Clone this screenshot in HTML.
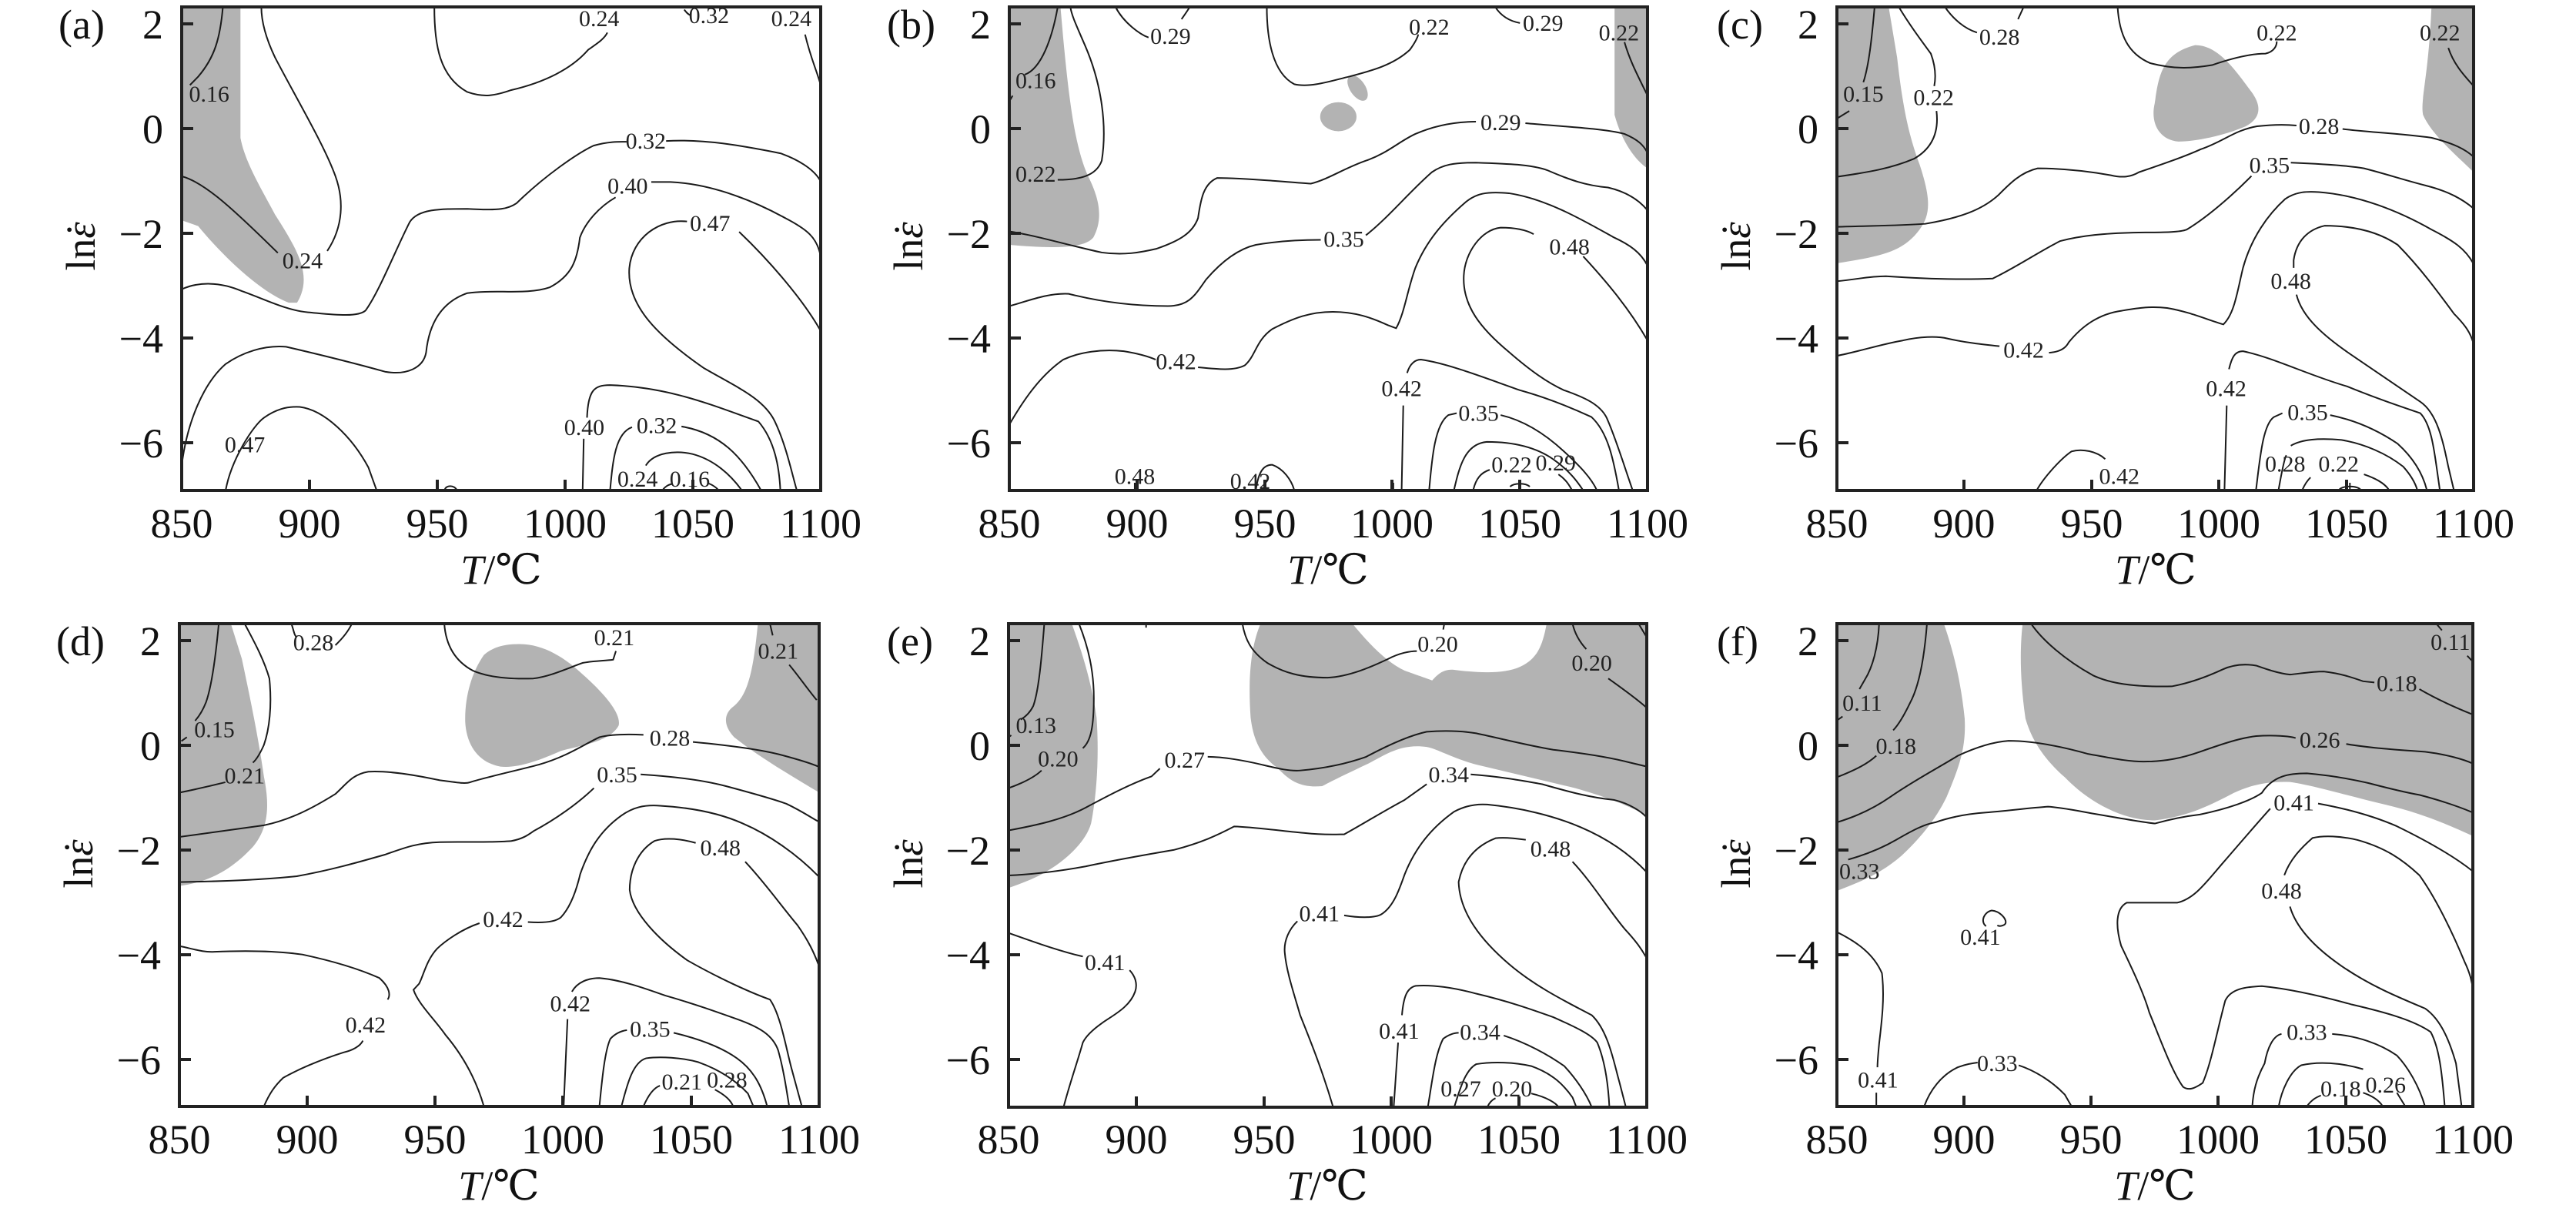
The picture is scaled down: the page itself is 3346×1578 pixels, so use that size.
<!DOCTYPE html>
<html><head><meta charset="utf-8"><style>
html,body{margin:0;padding:0;background:#fff}
svg{display:block;font-family:"Liberation Serif","DejaVu Serif","Times New Roman",serif}
.c{fill:none;stroke:#1a1a1a;stroke-width:2;vector-effect:non-scaling-stroke}
.g{fill:#b3b3b3;stroke:none}
.l text{font-family:"Liberation Serif","DejaVu Serif",serif;font-size:30px;fill:#222;text-anchor:middle}
.t text{font-family:"Liberation Serif","DejaVu Serif",serif;font-size:54px;fill:#111}
.ax{fill:none;stroke:#222;stroke-width:4}
.tk{stroke:#222;stroke-width:4}
</style></head><body>
<svg width="3346" height="1578" viewBox="0 0 3346 1578" xmlns="http://www.w3.org/2000/svg" font-family="Liberation Serif, DejaVu Serif, serif">
<defs>
<clipPath id="ca"><rect x="330" y="18" width="1162" height="1262"/></clipPath>
<clipPath id="cb"><rect x="352" y="18" width="1160" height="1264"/></clipPath>
<clipPath id="cc"><rect x="323" y="18" width="1132" height="1264"/></clipPath>
<clipPath id="cd"><rect x="325" y="60" width="1163" height="1233"/></clipPath>
<clipPath id="ce"><rect x="350" y="60" width="1160" height="1235"/></clipPath>
<clipPath id="cf"><rect x="255" y="58" width="1130" height="1232"/></clipPath>
</defs>

<!-- Panel a -->
<g transform="translate(236,9) scale(0.7134,0.4976) translate(-330,-18)">
<g clip-path="url(#ca)">
<path class="g" d="M330,18 L437,18 L437,360 C445,420 470,480 500,560 C540,650 570,720 540,790 L525,790 C470,760 400,660 360,590 L330,575 Z"/>
<path class="c" d="M405,18 C400,100 390,150 360,200 L345,222"/>
<path class="c" d="M330,460 C370,475 420,540 505,660 M595,655 C625,590 625,520 610,460 C590,380 540,260 500,150 C480,90 475,50 475,18"/>
<path class="c" d="M330,755 C360,735 400,735 440,760 C480,780 520,810 560,815 C600,820 650,830 665,810 C690,760 720,650 745,580 C760,545 800,545 850,545 C910,550 925,545 940,530 C990,460 1050,400 1080,380 C1110,368 1130,370 1140,370 M1212,368 C1280,362 1350,380 1420,400 C1450,415 1480,440 1492,470"/>
<path class="c" d="M330,1215 C340,1100 370,1000 410,950 C440,920 480,900 520,905 C580,925 650,950 700,970 C740,980 770,960 775,920 C780,850 800,790 850,765 C900,755 960,770 1000,750 C1040,720 1050,680 1055,620 C1065,580 1090,540 1120,515 M1185,475 L1220,475 C1300,480 1380,530 1430,570 C1470,600 1485,620 1492,660"/>
<path class="c" d="M1250,578 C1200,570 1150,620 1145,700 C1140,800 1200,880 1280,960 C1340,1010 1390,1040 1410,1100 C1430,1160 1440,1230 1450,1280 M1345,605 C1400,680 1460,780 1492,860"/>
<path class="c" d="M1060,1280 L1062,1145 M1068,1090 C1070,1020 1080,1005 1110,1005 C1220,1010 1300,1060 1380,1100 C1410,1150 1418,1220 1420,1280"/>
<path class="c" d="M1110,1280 C1115,1200 1120,1130 1150,1115 M1240,1113 C1310,1130 1350,1190 1385,1280"/>
<path class="c" d="M1175,1215 C1190,1180 1230,1175 1260,1185 C1300,1200 1330,1240 1350,1280"/>
<path class="c" d="M1205,1280 C1210,1270 1215,1266 1222,1263 M1290,1262 C1300,1268 1305,1275 1308,1280"/>
<path class="c" d="M790,18 C790,120 800,200 850,240 C880,255 900,250 930,235 C990,215 1040,180 1070,130 C1090,110 1100,100 1105,85"/>
<path class="c" d="M1245,25 C1250,35 1255,40 1258,40 M1465,90 C1475,150 1485,180 1492,215"/>
<path class="c" d="M808,1280 C812,1265 825,1265 832,1280"/>
<path class="c" d="M410,1280 C420,1200 460,1110 480,1090 C500,1070 520,1060 545,1062 C590,1070 640,1140 670,1220 L685,1280"/>
</g>
<g class="l">
<text transform="translate(380,245) scale(1.40,2.01)" dy="10">0.16</text>
<text transform="translate(550,680) scale(1.40,2.01)" dy="10">0.24</text>
<text transform="translate(1090,48) scale(1.40,2.01)" dy="10">0.24</text>
<text transform="translate(1290,40) scale(1.40,2.01)" dy="10">0.32</text>
<text transform="translate(1440,48) scale(1.40,2.01)" dy="10">0.24</text>
<text transform="translate(1175,368) scale(1.40,2.01)" dy="10">0.32</text>
<text transform="translate(1142,485) scale(1.40,2.01)" dy="10">0.40</text>
<text transform="translate(1292,583) scale(1.40,2.01)" dy="10">0.47</text>
<text transform="translate(1063,1115) scale(1.40,2.01)" dy="10">0.40</text>
<text transform="translate(1195,1110) scale(1.40,2.01)" dy="10">0.32</text>
<text transform="translate(1160,1250) scale(1.40,2.01)" dy="10">0.24</text>
<text transform="translate(1255,1250) scale(1.40,2.01)" dy="10">0.16</text>
<text transform="translate(445,1160) scale(1.40,2.01)" dy="10">0.47</text>
</g>
</g>

<!-- Panel b -->
<g transform="translate(1311,9) scale(0.7147,0.4968) translate(-352,-18)">
<g clip-path="url(#cb)">
<path class="g" d="M352,18 L445,18 L450,100 C460,250 470,380 495,460 C520,530 520,580 505,620 C490,650 430,650 352,640 Z"/>
<path class="g" d="M1452,18 L1512,18 L1512,440 C1490,420 1465,370 1452,300 Z"/>
<ellipse class="g" cx="950" cy="305" rx="33" ry="38"/>
<ellipse class="g" cx="985" cy="230" rx="15" ry="35" transform="rotate(-20 985 230)"/>
<path class="c" d="M440,18 C430,100 410,180 380,195 M358,250 L352,265"/>
<path class="c" d="M440,470 C480,470 510,460 520,420 C530,330 520,220 490,120 C475,70 465,40 463,18"/>
<path class="c" d="M545,18 C560,60 590,90 605,98 M665,50 C670,40 675,30 680,18"/>
<path class="c" d="M820,18 C820,100 830,190 870,220 C900,230 940,210 970,200 C1010,185 1050,170 1080,130 C1090,110 1095,95 1095,90"/>
<path class="c" d="M1235,18 C1245,40 1260,55 1280,60 M1470,110 C1480,160 1495,200 1512,250"/>
<path class="c" d="M352,605 C400,615 470,645 520,660 C560,668 590,660 620,650 C660,630 685,610 695,570 C700,520 705,480 730,465 C780,465 850,475 900,480 C930,470 960,440 1000,420 C1040,400 1060,370 1090,350 C1130,325 1170,318 1200,318 M1290,322 C1350,330 1430,335 1470,350 C1495,365 1505,380 1512,400"/>
<path class="c" d="M352,800 C380,790 420,765 460,768 C520,790 580,800 640,800 C680,800 690,770 710,730 C740,680 770,650 800,640 C840,630 880,627 918,627 M1000,615 C1040,570 1080,500 1120,450 C1140,430 1160,425 1200,425 C1260,428 1300,430 1330,445 C1370,470 1400,485 1440,490 C1470,500 1495,520 1512,550"/>
<path class="c" d="M352,1110 C380,1040 410,980 450,940 C480,920 520,912 560,918 C590,925 610,935 618,940 M695,960 C730,965 760,970 780,955 C800,930 800,890 830,860 C870,830 900,815 940,815 C980,815 1010,830 1040,850 L1055,858 C1070,820 1075,760 1090,700 C1110,630 1140,580 1180,530 C1200,505 1220,500 1260,505 C1330,520 1400,580 1450,620 C1480,640 1500,660 1512,695"/>
<path class="c" d="M1305,612 C1290,600 1270,595 1245,595 C1210,600 1180,660 1178,720 C1175,800 1210,860 1260,920 C1300,970 1330,1000 1360,1020 C1400,1040 1430,1060 1440,1100 C1455,1150 1470,1220 1485,1282 M1395,670 C1440,740 1480,810 1512,890"/>
<path class="c" d="M1065,1282 L1068,1060 M1075,975 C1080,950 1090,940 1100,940 C1150,950 1220,990 1280,1020 C1330,1040 1380,1070 1410,1090 C1440,1130 1450,1200 1460,1282"/>
<path class="c" d="M1115,1282 C1120,1200 1125,1110 1150,1085 L1165,1080 M1245,1085 C1290,1100 1330,1140 1360,1180 C1390,1220 1410,1250 1420,1282"/>
<path class="c" d="M1160,1282 C1170,1220 1180,1160 1220,1155 C1270,1155 1310,1170 1340,1200 C1370,1230 1385,1260 1395,1282"/>
<path class="c" d="M1195,1282 C1200,1250 1210,1235 1225,1228 M1350,1240 C1365,1255 1370,1270 1375,1282"/>
<path class="c" d="M800,1282 C805,1230 815,1215 830,1215 C850,1225 865,1255 870,1282"/>
<path class="c" d="M1050,1282 L1050,1262 M1262,1272 C1270,1262 1290,1262 1298,1272 M1280,1262 L1280,1282 M580,1262 L580,1282"/>
</g>
<g class="l">
<text transform="translate(400,210) scale(1.40,2.01)" dy="10">0.16</text>
<text transform="translate(400,455) scale(1.40,2.01)" dy="10">0.22</text>
<text transform="translate(645,95) scale(1.40,2.01)" dy="10">0.29</text>
<text transform="translate(1115,70) scale(1.40,2.01)" dy="10">0.22</text>
<text transform="translate(1322,60) scale(1.40,2.01)" dy="10">0.29</text>
<text transform="translate(1460,85) scale(1.40,2.01)" dy="10">0.22</text>
<text transform="translate(1245,320) scale(1.40,2.01)" dy="10">0.29</text>
<text transform="translate(960,625) scale(1.40,2.01)" dy="10">0.35</text>
<text transform="translate(655,945) scale(1.40,2.01)" dy="10">0.42</text>
<text transform="translate(1370,645) scale(1.40,2.01)" dy="10">0.48</text>
<text transform="translate(1065,1015) scale(1.40,2.01)" dy="10">0.42</text>
<text transform="translate(1205,1080) scale(1.40,2.01)" dy="10">0.35</text>
<text transform="translate(1265,1215) scale(1.40,2.01)" dy="10">0.22</text>
<text transform="translate(1345,1210) scale(1.40,2.01)" dy="10">0.29</text>
<text transform="translate(580,1245) scale(1.40,2.01)" dy="10">0.48</text>
<text transform="translate(790,1258) scale(1.40,2.01)" dy="10">0.42</text>
</g>
</g>

<!-- Panel c -->
<g transform="translate(2386,9) scale(0.7306,0.4968) translate(-323,-18)">
<g clip-path="url(#cc)">
<path class="g" d="M323,18 L415,18 L430,150 C440,280 450,350 470,430 C490,520 490,560 470,600 C440,660 400,670 323,688 Z"/>
<path class="g" d="M960,118 C1000,118 1030,180 1060,240 C1080,280 1075,310 1050,330 C1010,355 960,370 930,370 C895,365 880,320 888,270 C895,200 900,140 960,118 Z"/>
<path class="g" d="M1380,18 L1455,18 L1455,450 C1420,400 1380,350 1365,300 C1360,260 1375,200 1380,18 Z"/>
<path class="c" d="M390,18 C385,100 380,170 370,215 M345,290 L323,310"/>
<path class="c" d="M433,18 C450,60 470,100 490,140 C500,180 498,210 496,225 M500,290 C505,350 490,390 460,415 C420,440 380,450 323,462"/>
<path class="c" d="M515,18 C530,50 550,75 572,85 M645,50 L655,18"/>
<path class="c" d="M822,18 C825,90 840,140 880,165 C920,180 950,180 990,170 C1030,150 1060,140 1085,140 C1100,135 1105,120 1105,108"/>
<path class="c" d="M1410,125 C1420,170 1440,200 1455,225"/>
<path class="c" d="M323,593 C380,590 430,590 480,585 C540,570 580,550 610,510 C630,480 650,450 680,440 C730,440 780,450 810,458 C830,465 845,463 860,450 C900,430 940,410 970,390 C1010,370 1030,340 1070,330 C1100,325 1120,325 1140,328 M1222,337 C1260,345 1320,348 1380,360 C1420,375 1440,390 1455,410"/>
<path class="c" d="M323,735 C360,730 380,722 410,722 C470,728 540,732 600,728 C640,700 680,660 720,630 C760,615 800,610 850,608 C900,607 930,608 945,600 C990,560 1040,490 1060,460 M1130,425 C1180,428 1230,432 1260,440 C1300,455 1330,470 1370,485 C1410,500 1435,520 1455,545"/>
<path class="c" d="M323,930 C360,920 400,900 440,890 C470,880 500,878 520,885 C550,895 580,900 612,905 M700,922 C720,920 730,910 735,895 C760,850 790,820 830,812 C860,805 880,800 910,805 C950,815 980,835 1010,848 C1030,820 1035,760 1045,700 C1060,620 1090,560 1120,520 C1140,500 1160,500 1180,502 C1250,510 1320,550 1380,600 C1420,630 1440,650 1455,690"/>
<path class="c" d="M1135,700 L1135,680 C1140,630 1160,600 1190,590 C1230,590 1280,600 1320,640 C1360,700 1390,760 1420,820 C1440,850 1450,870 1455,900 M1140,770 C1150,830 1190,880 1240,930 C1290,980 1330,1020 1360,1050 C1390,1080 1400,1150 1410,1220 L1420,1282"/>
<path class="c" d="M1012,1282 L1016,1060 M1020,965 C1025,935 1030,918 1045,918 C1100,935 1160,980 1230,1010 C1280,1040 1320,1060 1360,1080 C1380,1110 1385,1180 1390,1230 L1395,1282"/>
<path class="c" d="M1068,1282 C1075,1200 1080,1110 1100,1090 L1115,1080 M1200,1085 C1250,1100 1290,1130 1320,1160 C1350,1200 1365,1240 1372,1282"/>
<path class="c" d="M1108,1282 C1113,1240 1118,1200 1122,1190 M1130,1165 C1150,1148 1180,1145 1220,1150 C1260,1160 1300,1185 1330,1220 C1345,1245 1352,1265 1355,1282"/>
<path class="c" d="M1150,1282 C1155,1265 1160,1255 1165,1248 M1260,1240 C1290,1255 1300,1270 1305,1282"/>
<path class="c" d="M678,1282 C690,1250 720,1200 740,1180 C760,1172 785,1180 800,1200"/>
<path class="c" d="M1215,1282 C1220,1268 1250,1268 1255,1282 M1235,1262 L1235,1282"/>
</g>
<g class="l">
<text transform="translate(370,245) scale(1.37,2.01)" dy="10">0.15</text>
<text transform="translate(495,255) scale(1.37,2.01)" dy="10">0.22</text>
<text transform="translate(612,97) scale(1.37,2.01)" dy="10">0.28</text>
<text transform="translate(1105,85) scale(1.37,2.01)" dy="10">0.22</text>
<text transform="translate(1395,85) scale(1.37,2.01)" dy="10">0.22</text>
<text transform="translate(1180,330) scale(1.37,2.01)" dy="10">0.28</text>
<text transform="translate(1092,432) scale(1.37,2.01)" dy="10">0.35</text>
<text transform="translate(655,915) scale(1.37,2.01)" dy="10">0.42</text>
<text transform="translate(1130,735) scale(1.37,2.01)" dy="10">0.48</text>
<text transform="translate(1015,1015) scale(1.37,2.01)" dy="10">0.42</text>
<text transform="translate(1160,1078) scale(1.37,2.01)" dy="10">0.35</text>
<text transform="translate(1120,1213) scale(1.37,2.01)" dy="10">0.28</text>
<text transform="translate(1215,1213) scale(1.37,2.01)" dy="10">0.22</text>
<text transform="translate(825,1245) scale(1.37,2.01)" dy="10">0.42</text>
</g>
</g>

<!-- Panel d -->
<g transform="translate(232,810) scale(0.7145,0.5085) translate(-325,-60)">
<g clip-path="url(#cd)">
<path class="g" d="M325,60 L420,60 L440,150 C455,250 470,350 480,450 C490,520 490,580 460,630 C420,690 380,720 325,730 Z"/>
<path class="g" d="M945,112 C990,112 1030,150 1060,190 C1100,240 1130,290 1125,320 C1110,360 1060,370 1020,385 C980,410 940,430 910,425 C870,415 848,370 846,310 C845,240 860,180 880,140 C900,115 925,112 945,112 Z"/>
<path class="g" d="M1378,60 L1488,60 L1488,490 C1440,450 1380,400 1335,350 C1315,320 1315,290 1335,270 C1360,240 1370,180 1378,60 Z"/>
<path class="c" d="M398,60 C392,150 385,220 375,260 C368,285 360,300 355,308 M340,350 L330,360"/>
<path class="c" d="M445,60 C460,100 480,150 490,200 C495,270 490,330 480,370 C472,395 466,408 460,415 M410,465 C390,472 360,482 325,492"/>
<path class="c" d="M530,60 C535,80 535,90 540,95 M610,115 C625,95 635,75 640,60"/>
<path class="c" d="M808,60 C810,100 820,150 860,180 C890,198 930,202 970,200 C1000,195 1030,175 1060,160 C1080,155 1100,155 1115,152 L1120,130"/>
<path class="c" d="M1400,60 L1405,90 M1435,165 C1450,190 1470,230 1485,255"/>
<path class="c" d="M325,605 C380,595 430,585 480,575 C530,560 570,530 610,495 C630,470 640,445 670,438 C710,435 760,448 800,460 C830,465 845,470 855,465 C890,450 940,435 980,420 C1030,400 1060,370 1090,350 C1110,343 1140,342 1170,344 M1260,362 C1320,370 1380,380 1420,395 C1460,410 1480,420 1488,425"/>
<path class="c" d="M325,720 C400,718 470,715 540,705 C600,690 650,670 700,650 C740,630 760,620 800,618 C840,616 890,620 930,615 C950,610 960,600 970,590 C1010,560 1050,520 1080,480 M1165,445 C1220,450 1280,460 1320,475 C1360,490 1400,505 1430,520 C1460,540 1480,560 1488,565"/>
<path class="c" d="M960,822 C990,825 1010,822 1020,810 C1040,780 1050,730 1055,700 C1070,640 1090,590 1130,550 C1150,530 1170,522 1200,525 C1260,530 1310,545 1350,570 C1400,600 1450,650 1488,705 M872,825 C840,840 810,870 795,890 C775,920 770,960 762,980 L752,995 C760,1030 790,1070 810,1110 C840,1160 865,1220 880,1293"/>
<path class="c" d="M325,883 C350,890 370,900 390,898 C440,895 500,895 550,905 C600,920 650,940 690,965 C710,990 710,1010 705,1020 M660,1125 C655,1140 640,1150 625,1155 C580,1175 540,1200 515,1220 C500,1240 490,1260 480,1293"/>
<path class="c" d="M1265,620 C1240,610 1210,605 1190,615 C1160,640 1145,690 1145,740 C1150,800 1200,870 1250,920 C1300,960 1360,1000 1400,1020 C1420,1060 1430,1150 1440,1200 L1458,1293 M1355,668 C1390,720 1420,780 1450,830 C1470,870 1480,900 1488,930"/>
<path class="c" d="M1025,1293 L1032,1070 M1040,1000 C1050,975 1070,965 1090,965 C1130,970 1170,990 1210,1010 C1260,1030 1300,1050 1340,1070 C1380,1090 1405,1110 1415,1150 C1425,1200 1430,1250 1435,1293"/>
<path class="c" d="M1090,1293 C1095,1220 1100,1150 1110,1120 C1120,1105 1130,1100 1140,1098 M1225,1105 C1270,1120 1310,1140 1340,1170 C1370,1200 1385,1240 1395,1293"/>
<path class="c" d="M1130,1293 C1140,1240 1150,1180 1175,1170 C1200,1165 1240,1168 1270,1180 C1310,1200 1340,1230 1360,1260 L1370,1293"/>
<path class="c" d="M1170,1293 C1180,1260 1190,1245 1200,1240 M1300,1250 C1320,1265 1330,1280 1333,1293"/>
</g>
<g class="l">
<text transform="translate(390,330) scale(1.40,1.97)" dy="10">0.15</text>
<text transform="translate(445,448) scale(1.40,1.97)" dy="10">0.21</text>
<text transform="translate(570,108) scale(1.40,1.97)" dy="10">0.28</text>
<text transform="translate(1117,95) scale(1.40,1.97)" dy="10">0.21</text>
<text transform="translate(1415,130) scale(1.40,1.97)" dy="10">0.21</text>
<text transform="translate(1218,352) scale(1.40,1.97)" dy="10">0.28</text>
<text transform="translate(1122,445) scale(1.40,1.97)" dy="10">0.35</text>
<text transform="translate(915,815) scale(1.40,1.97)" dy="10">0.42</text>
<text transform="translate(665,1085) scale(1.40,1.97)" dy="10">0.42</text>
<text transform="translate(1310,632) scale(1.40,1.97)" dy="10">0.48</text>
<text transform="translate(1037,1030) scale(1.40,1.97)" dy="10">0.42</text>
<text transform="translate(1182,1095) scale(1.40,1.97)" dy="10">0.35</text>
<text transform="translate(1240,1230) scale(1.40,1.97)" dy="10">0.21</text>
<text transform="translate(1322,1225) scale(1.40,1.97)" dy="10">0.28</text>
</g>
</g>

<!-- Panel e -->
<g transform="translate(1310,810) scale(0.7147,0.5085) translate(-350,-60)">
<g clip-path="url(#ce)">
<path class="g" d="M350,60 L465,60 C480,120 500,200 510,300 C515,400 510,500 500,570 C490,620 450,670 410,700 C390,715 370,725 350,735 Z"/>
<path class="g" d="M808,60 L975,60 C1010,120 1040,160 1070,180 C1090,190 1110,200 1120,205 C1130,190 1140,175 1160,178 C1200,185 1250,190 1280,170 C1310,150 1320,120 1328,60 L1510,60 L1510,550 C1470,520 1430,500 1380,480 C1320,460 1260,440 1200,420 C1150,400 1130,380 1110,375 C1060,365 1030,400 1000,420 C970,440 940,460 920,475 C880,480 860,460 840,430 C810,400 795,360 790,300 C785,200 790,120 808,60 Z"/>
<path class="c" d="M415,60 C410,150 405,230 395,270 C388,290 378,300 372,305 M355,345 L350,350"/>
<path class="c" d="M478,60 C495,120 505,180 505,250 C505,320 500,360 485,378 M410,435 C395,455 370,470 350,480"/>
<path class="c" d="M350,588 C400,575 450,560 490,530 C530,500 570,470 610,450 L625,430 M712,400 C740,400 780,410 810,420 C840,430 860,437 880,435 C920,430 960,420 1000,400 C1040,370 1080,345 1110,336 C1140,333 1170,333 1200,340 C1250,355 1290,370 1340,382 C1390,390 1440,400 1480,415 L1510,425"/>
<path class="c" d="M775,60 C780,100 790,130 820,160 C850,185 880,198 930,198 C970,195 1010,170 1040,150 C1060,135 1080,130 1092,130 M1140,75 L1142,60"/>
<path class="c" d="M1375,60 C1380,90 1390,110 1400,125 M1440,200 C1460,220 1490,250 1510,275 M1495,60 L1510,95 M600,60 L600,70"/>
<path class="c" d="M350,703 C400,700 450,690 490,680 C540,665 600,650 650,638 C700,620 730,600 760,578 C800,580 850,590 890,595 C920,600 950,598 960,598 C990,575 1030,540 1070,510 C1090,490 1100,480 1110,470 M1190,445 C1240,450 1280,460 1320,470 C1370,490 1410,505 1450,510 C1480,520 1500,540 1510,555"/>
<path class="c" d="M960,805 C990,812 1020,812 1030,800 C1050,780 1060,740 1070,700 C1090,630 1120,580 1160,540 C1180,525 1200,520 1220,522 C1280,530 1340,550 1390,580 C1440,610 1480,650 1510,695 M875,820 C860,840 850,870 852,900 C855,950 870,1010 880,1060 C900,1130 920,1200 940,1295"/>
<path class="c" d="M350,850 C390,870 430,890 470,905 L485,910 M570,945 C580,960 585,980 580,1000 C570,1040 540,1060 520,1080 C500,1100 490,1115 485,1130 C475,1180 460,1240 450,1295"/>
<path class="c" d="M1290,612 C1270,608 1250,605 1235,608 C1195,630 1175,670 1168,720 C1170,800 1210,870 1260,930 C1310,990 1370,1030 1410,1060 C1440,1100 1450,1180 1460,1230 L1472,1295 M1375,668 C1410,720 1440,790 1470,840 C1490,870 1500,890 1510,915"/>
<path class="c" d="M1050,1295 L1058,1130 M1065,1060 C1068,1010 1075,990 1090,985 C1120,982 1160,990 1200,1005 C1260,1025 1300,1045 1340,1065 C1380,1090 1410,1110 1420,1130 C1435,1180 1440,1240 1442,1295"/>
<path class="c" d="M1112,1295 C1120,1230 1125,1160 1140,1120 C1150,1110 1160,1105 1168,1105 M1250,1112 C1290,1130 1330,1160 1360,1190 C1380,1220 1400,1260 1410,1295"/>
<path class="c" d="M1160,1295 C1170,1250 1180,1200 1200,1185 C1230,1178 1270,1180 1300,1190 C1340,1210 1360,1240 1375,1270 L1382,1295"/>
<path class="c" d="M1300,1260 C1330,1270 1345,1285 1350,1295 M1220,1295 C1225,1280 1230,1275 1235,1272"/>
</g>
<g class="l">
<text transform="translate(400,320) scale(1.40,1.97)" dy="10">0.13</text>
<text transform="translate(440,405) scale(1.40,1.97)" dy="10">0.20</text>
<text transform="translate(670,408) scale(1.40,1.97)" dy="10">0.27</text>
<text transform="translate(1130,112) scale(1.40,1.97)" dy="10">0.20</text>
<text transform="translate(1410,160) scale(1.40,1.97)" dy="10">0.20</text>
<text transform="translate(1150,445) scale(1.40,1.97)" dy="10">0.34</text>
<text transform="translate(915,800) scale(1.40,1.97)" dy="10">0.41</text>
<text transform="translate(525,925) scale(1.40,1.97)" dy="10">0.41</text>
<text transform="translate(1335,635) scale(1.40,1.97)" dy="10">0.48</text>
<text transform="translate(1060,1100) scale(1.40,1.97)" dy="10">0.41</text>
<text transform="translate(1207,1103) scale(1.40,1.97)" dy="10">0.34</text>
<text transform="translate(1172,1248) scale(1.40,1.97)" dy="10">0.27</text>
<text transform="translate(1265,1248) scale(1.40,1.97)" dy="10">0.20</text>
</g>
</g>

<!-- Panel f -->
<g transform="translate(2386,810) scale(0.731,0.5089) translate(-255,-58)">
<g clip-path="url(#cf)">
<path class="g" d="M255,58 L445,58 C460,120 475,200 482,300 C485,380 470,430 450,500 C430,560 400,610 370,650 C330,700 290,720 255,740 Z"/>
<path class="g" d="M585,58 L1385,58 L1385,600 C1340,570 1290,540 1230,520 C1170,500 1100,470 1060,462 C1020,460 990,470 960,490 C920,520 880,550 820,560 C760,560 700,510 660,450 C620,400 600,350 590,300 C580,200 580,120 585,58 Z"/>
<path class="c" d="M330,58 C328,120 318,170 305,200 L295,225 M265,295 L255,305"/>
<path class="c" d="M415,58 C410,150 400,220 385,260 C375,290 365,315 355,330 M325,395 C310,415 290,430 255,450"/>
<path class="c" d="M255,565 C290,550 320,530 350,500 C390,460 430,430 470,395 C500,375 530,360 560,357 C600,357 650,370 700,390 C740,400 770,410 800,410 C840,410 870,400 900,385 C940,365 970,350 1000,345 C1030,342 1060,345 1070,350 M1160,365 C1200,375 1250,380 1300,385 C1340,392 1370,405 1385,415"/>
<path class="c" d="M600,58 C620,100 660,150 710,190 C740,210 780,220 850,218 C880,210 910,195 940,175 C960,162 980,160 1000,165 C1020,175 1040,185 1060,188 C1080,185 1100,180 1120,180 C1150,185 1170,195 1190,205 L1210,208 M1290,225 C1320,250 1350,270 1385,290"/>
<path class="c" d="M1320,58 L1330,75 M1375,140 L1385,155"/>
<path class="c" d="M275,660 C300,650 330,635 360,610 C390,585 410,570 430,565 C460,550 490,543 520,540 C560,535 600,528 630,525 C660,528 690,538 720,545 C760,555 800,565 820,568 C840,560 870,550 900,545 C950,530 990,510 1010,490 C1030,445 1060,440 1090,440 C1130,445 1170,455 1200,465 C1240,480 1270,490 1290,495 C1330,510 1360,525 1385,540"/>
<path class="c" d="M1025,530 C1000,570 970,620 940,670 C910,720 890,760 860,770 C830,770 800,770 770,770 C750,785 750,830 760,880 C780,940 800,1000 810,1050 C830,1120 850,1200 870,1240 C880,1250 890,1245 905,1230 C920,1180 930,1100 945,1020 C955,990 980,985 1010,983 C1060,990 1120,1010 1170,1030 C1230,1050 1280,1070 1310,1100 C1325,1140 1330,1200 1335,1290 M1110,517 C1160,530 1210,550 1250,575 C1300,610 1350,650 1385,690"/>
<path class="c" d="M1050,700 C1060,660 1080,630 1100,605 C1120,598 1150,600 1180,610 C1230,630 1260,660 1290,700 C1320,760 1350,850 1370,920 C1380,950 1383,970 1385,990 M1060,780 C1070,830 1100,880 1150,930 C1200,980 1250,1010 1300,1040 C1330,1070 1345,1130 1355,1180 L1365,1290"/>
<path class="c" d="M1045,1105 C1030,1110 1020,1140 1015,1180 C1000,1220 995,1250 993,1290 M1135,1105 C1180,1110 1220,1130 1250,1160 C1270,1190 1290,1240 1300,1290"/>
<path class="c" d="M1040,1290 C1045,1250 1060,1200 1080,1185 C1110,1175 1150,1178 1190,1195 M1250,1255 L1265,1290 M1090,1290 C1100,1270 1110,1265 1115,1262 M1190,1255 C1210,1265 1220,1278 1225,1290"/>
<path class="c" d="M410,1290 C420,1250 440,1210 470,1190 C485,1182 495,1180 505,1178 M578,1185 C610,1200 640,1230 660,1260 L672,1290"/>
<path class="c" d="M520,830 C510,820 515,795 530,790 C545,792 555,810 555,820 C555,828 545,832 540,828"/>
<path class="c" d="M255,845 C290,870 320,900 335,950 C340,1010 335,1070 330,1130 C328,1160 327,1180 327,1190 M325,1255 L325,1290"/>
</g>
<g class="l">
<text transform="translate(300,260) scale(1.37,1.97)" dy="10">0.11</text>
<text transform="translate(360,370) scale(1.37,1.97)" dy="10">0.18</text>
<text transform="translate(1113,355) scale(1.37,1.97)" dy="10">0.26</text>
<text transform="translate(1250,210) scale(1.37,1.97)" dy="10">0.18</text>
<text transform="translate(1345,105) scale(1.37,1.97)" dy="10">0.11</text>
<text transform="translate(295,690) scale(1.37,1.97)" dy="10">0.33</text>
<text transform="translate(1067,515) scale(1.37,1.97)" dy="10">0.41</text>
<text transform="translate(1045,740) scale(1.37,1.97)" dy="10">0.48</text>
<text transform="translate(1090,1100) scale(1.37,1.97)" dy="10">0.33</text>
<text transform="translate(1150,1245) scale(1.37,1.97)" dy="10">0.18</text>
<text transform="translate(1230,1235) scale(1.37,1.97)" dy="10">0.26</text>
<text transform="translate(540,1180) scale(1.37,1.97)" dy="10">0.33</text>
<text transform="translate(510,858) scale(1.37,1.97)" dy="10">0.41</text>
<text transform="translate(328,1222) scale(1.37,1.97)" dy="10">0.41</text>
</g>
</g>

<!-- Axes frames and ticks -->
<g>
<rect class="ax" x="236" y="9" width="830" height="628"/>
<rect class="ax" x="1311" y="9" width="829" height="628"/>
<rect class="ax" x="2386" y="9" width="827" height="628"/>
<rect class="ax" x="233" y="810" width="831" height="627"/>
<rect class="ax" x="1310" y="810" width="829" height="628"/>
<rect class="ax" x="2386" y="810" width="826" height="627"/>
</g>
<g class="tk">
<path d="M402,637v-14 M568,637v-14 M734,637v-14 M900,637v-14"/>
<path d="M1477,637v-14 M1643,637v-14 M1808,637v-14 M1974,637v-14"/>
<path d="M2551,637v-14 M2717,637v-14 M2882,637v-14 M3048,637v-14"/>
<path d="M399,1437v-14 M565,1437v-14 M731,1437v-14 M898,1437v-14"/>
<path d="M1476,1438v-14 M1642,1438v-14 M1807,1438v-14 M1973,1438v-14"/>
<path d="M2551,1437v-14 M2716,1437v-14 M2881,1437v-14 M3047,1437v-14"/>
<path d="M236,31h15 M236,167h15 M236,303h15 M236,439h15 M236,575h15"/>
<path d="M1311,31h15 M1311,167h15 M1311,303h15 M1311,439h15 M1311,575h15"/>
<path d="M2386,31h15 M2386,167h15 M2386,303h15 M2386,439h15 M2386,575h15"/>
<path d="M233,832h15 M233,968h15 M233,1104h15 M233,1240h15 M233,1376h15"/>
<path d="M1310,832h15 M1310,968h15 M1310,1104h15 M1310,1240h15 M1310,1376h15"/>
<path d="M2386,832h15 M2386,968h15 M2386,1104h15 M2386,1240h15 M2386,1376h15"/>
</g>

<!-- Tick labels -->
<g class="t" text-anchor="middle">
<text x="236" y="698">850</text><text x="402" y="698">900</text><text x="568" y="698">950</text><text x="734" y="698">1000</text><text x="900" y="698">1050</text><text x="1066" y="698">1100</text>
<text x="1311" y="698">850</text><text x="1477" y="698">900</text><text x="1643" y="698">950</text><text x="1808" y="698">1000</text><text x="1974" y="698">1050</text><text x="2140" y="698">1100</text>
<text x="2386" y="698">850</text><text x="2551" y="698">900</text><text x="2717" y="698">950</text><text x="2882" y="698">1000</text><text x="3048" y="698">1050</text><text x="3213" y="698">1100</text>
<text x="233" y="1498">850</text><text x="399" y="1498">900</text><text x="565" y="1498">950</text><text x="731" y="1498">1000</text><text x="898" y="1498">1050</text><text x="1064" y="1498">1100</text>
<text x="1310" y="1498">850</text><text x="1476" y="1498">900</text><text x="1642" y="1498">950</text><text x="1807" y="1498">1000</text><text x="1973" y="1498">1050</text><text x="2139" y="1498">1100</text>
<text x="2386" y="1498">850</text><text x="2551" y="1498">900</text><text x="2716" y="1498">950</text><text x="2881" y="1498">1000</text><text x="3047" y="1498">1050</text><text x="3212" y="1498">1100</text>
<text x="651" y="758"><tspan font-style="italic">T</tspan>/℃</text>
<text x="1725" y="758"><tspan font-style="italic">T</tspan>/℃</text>
<text x="2800" y="758"><tspan font-style="italic">T</tspan>/℃</text>
<text x="648" y="1558"><tspan font-style="italic">T</tspan>/℃</text>
<text x="1724" y="1558"><tspan font-style="italic">T</tspan>/℃</text>
<text x="2799" y="1558"><tspan font-style="italic">T</tspan>/℃</text>
</g>
<g class="t" text-anchor="end">
<text x="212" y="50">2</text><text x="212" y="186">0</text><text x="212" y="322">−2</text><text x="212" y="458">−4</text><text x="212" y="594">−6</text>
<text x="1287" y="50">2</text><text x="1287" y="186">0</text><text x="1287" y="322">−2</text><text x="1287" y="458">−4</text><text x="1287" y="594">−6</text>
<text x="2362" y="50">2</text><text x="2362" y="186">0</text><text x="2362" y="322">−2</text><text x="2362" y="458">−4</text><text x="2362" y="594">−6</text>
<text x="209" y="851">2</text><text x="209" y="987">0</text><text x="209" y="1123">−2</text><text x="209" y="1259">−4</text><text x="209" y="1395">−6</text>
<text x="1286" y="851">2</text><text x="1286" y="987">0</text><text x="1286" y="1123">−2</text><text x="1286" y="1259">−4</text><text x="1286" y="1395">−6</text>
<text x="2362" y="851">2</text><text x="2362" y="987">0</text><text x="2362" y="1123">−2</text><text x="2362" y="1259">−4</text><text x="2362" y="1395">−6</text>
</g>
<g class="t">
<text x="76" y="50">(a)</text><text x="1152" y="50">(b)</text><text x="2230" y="50">(c)</text>
<text x="73" y="851">(d)</text><text x="1152" y="851">(e)</text><text x="2230" y="851">(f)</text>
</g>
<g class="t" text-anchor="middle">
<text transform="translate(123,320) rotate(-90)">ln<tspan font-style="italic">ε</tspan><tspan dx="-19">˙</tspan></text>
<text transform="translate(1198,320) rotate(-90)">ln<tspan font-style="italic">ε</tspan><tspan dx="-19">˙</tspan></text>
<text transform="translate(2273,320) rotate(-90)">ln<tspan font-style="italic">ε</tspan><tspan dx="-19">˙</tspan></text>
<text transform="translate(120,1122) rotate(-90)">ln<tspan font-style="italic">ε</tspan><tspan dx="-19">˙</tspan></text>
<text transform="translate(1198,1122) rotate(-90)">ln<tspan font-style="italic">ε</tspan><tspan dx="-19">˙</tspan></text>
<text transform="translate(2273,1122) rotate(-90)">ln<tspan font-style="italic">ε</tspan><tspan dx="-19">˙</tspan></text>
</g>
</svg>
</body></html>
